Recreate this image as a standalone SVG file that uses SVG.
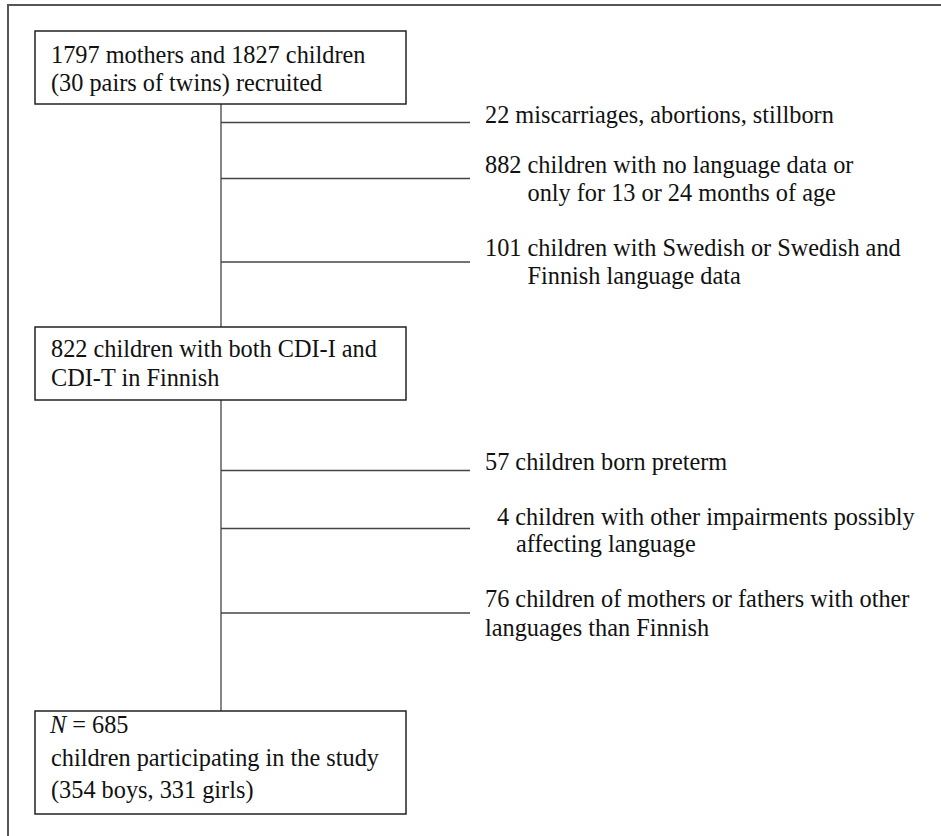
<svg xmlns="http://www.w3.org/2000/svg" width="941" height="836" viewBox="0 0 941 836">
<style>
.frame{fill:none;stroke:#555;stroke-width:2}
.box{fill:#fff;stroke:#222;stroke-width:1.5}
.ln{fill:none;stroke:#444;stroke-width:1.3}
text{font-family:"Liberation Serif","Times New Roman",serif;font-size:24.3px;fill:#111}
</style>
<rect width="941" height="836" fill="#fff"/>
<polyline class="frame" points="8,836 8,5 941,5"/>
<g id="connectors">
<line class="ln" x1="221" y1="104" x2="221" y2="327"/>
<line class="ln" x1="221" y1="400" x2="221" y2="711"/>
<line class="ln" x1="221" y1="122.5" x2="470" y2="122.5"/>
<line class="ln" x1="221" y1="178.5" x2="470" y2="178.5"/>
<line class="ln" x1="221" y1="262" x2="470" y2="262"/>
<line class="ln" x1="221" y1="470.5" x2="470" y2="470.5"/>
<line class="ln" x1="221" y1="528.5" x2="470" y2="528.5"/>
<line class="ln" x1="221" y1="613" x2="470" y2="613"/>
</g>
<g id="recruited">
<rect class="box" x="35" y="31" width="371" height="73"/>
<text x="51" y="63">1797 mothers and 1827 children</text>
<text x="51" y="91">(30 pairs of twins) recruited</text>
</g>
<g id="finnish">
<rect class="box" x="35" y="327" width="371" height="73"/>
<text x="51" y="357">822 children with both CDI-I and</text>
<text x="51" y="386">CDI-T in Finnish</text>
</g>
<g id="final">
<rect class="box" x="35" y="711" width="371" height="103"/>
<text x="50" y="733"><tspan font-style="italic">N</tspan> = 685</text>
<text x="51" y="766">children participating in the study</text>
<text x="51" y="798">(354 boys, 331 girls)</text>
</g>
<g id="excl-miscarriages">
<text x="485" y="123">22 miscarriages, abortions, stillborn</text>
</g>
<g id="excl-nodata">
<text x="485" y="173">882 children with no language data or</text>
<text x="527.5" y="201">only for 13 or 24 months of age</text>
</g>
<g id="excl-swedish">
<text x="485" y="256">101 children with Swedish or Swedish and</text>
<text x="527.5" y="284">Finnish language data</text>
</g>
<g id="excl-preterm">
<text x="485" y="470">57 children born preterm</text>
</g>
<g id="excl-impairments">
<text x="497" y="525">4 children with other impairments possibly</text>
<text x="516" y="552">affecting language</text>
</g>
<g id="excl-languages">
<text x="485" y="607">76 children of mothers or fathers with other</text>
<text x="485" y="636">languages than Finnish</text>
</g>
</svg>
